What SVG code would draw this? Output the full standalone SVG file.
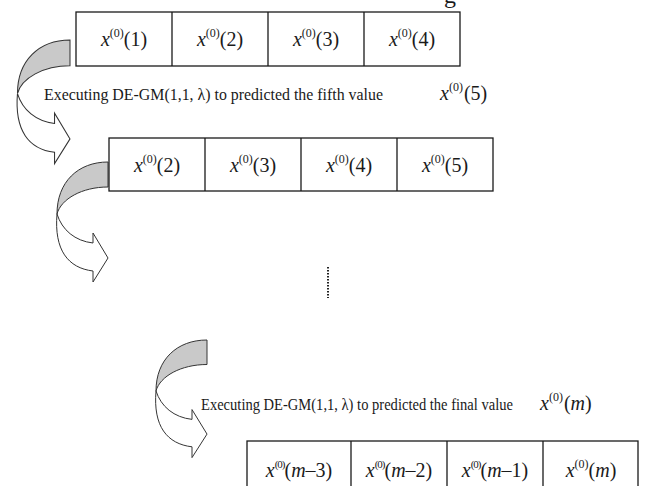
<svg xmlns="http://www.w3.org/2000/svg" width="654" height="486" viewBox="0 0 654 486">
<style>
.cell{fill:#fff;stroke:#1a1a1a;stroke-width:1.3}
.t{font-family:"Liberation Serif","Times New Roman",serif;fill:#1a1a1a}
.v{font-size:20px}
.cap{font-size:17.5px}
.band{fill:#c9c9c9;stroke:#333;stroke-width:1}
.front{fill:#fff;stroke:#333;stroke-width:1}
</style>
<defs>
<g id="carrow">
<path class="band" d="M0,0 C-30,0 -51,20 -51,52 C-47,37 -26,25 0,25 Z"/>
<path class="front" d="M-51,52 C-46,68 -33,79 -15,81 L-15,71 L0,96 L-15,120 L-15,109 C-40,106 -54,88 -51,52 Z"/>
</g>
</defs>
<rect width="654" height="486" fill="#fff"/>
<text class="t" x="444" y="3" font-size="24">g</text>

<g id="connectors">
<use href="#carrow" transform="translate(70,40) scale(1.03,1.03)"/>
<use href="#carrow" transform="translate(108,162)"/>
<use href="#carrow" transform="translate(207,340) scale(1,0.98)"/>
<line x1="328" y1="267" x2="328" y2="298" stroke="#222" stroke-width="2" stroke-dasharray="1.5 1.5"/>
</g>

<g id="row1">
<rect class="cell" x="76" y="12" width="384" height="54"/>
<line class="cell" x1="172" y1="12" x2="172" y2="66"/>
<line class="cell" x1="268" y1="12" x2="268" y2="66"/>
<line class="cell" x1="364" y1="12" x2="364" y2="66"/>
<text class="t v" x="124" y="46" text-anchor="middle"><tspan font-style="italic">x</tspan><tspan font-size="12" dy="-9">(0)</tspan><tspan dy="9">(1)</tspan></text>
<text class="t v" x="220" y="46" text-anchor="middle"><tspan font-style="italic">x</tspan><tspan font-size="12" dy="-9">(0)</tspan><tspan dy="9">(2)</tspan></text>
<text class="t v" x="316" y="46" text-anchor="middle"><tspan font-style="italic">x</tspan><tspan font-size="12" dy="-9">(0)</tspan><tspan dy="9">(3)</tspan></text>
<text class="t v" x="412" y="46" text-anchor="middle"><tspan font-style="italic">x</tspan><tspan font-size="12" dy="-9">(0)</tspan><tspan dy="9">(4)</tspan></text>
</g>

<g id="caption1">
<text class="t cap" x="44" y="100" textLength="339" lengthAdjust="spacingAndGlyphs">Executing DE-GM(1,1, λ) to predicted the fifth value</text>
<text class="t v" x="440" y="100"><tspan font-style="italic">x</tspan><tspan font-size="12" dy="-9">(0)</tspan><tspan dy="9" dx="1">(5)</tspan></text>
</g>

<g id="row2">
<rect class="cell" x="109" y="138" width="384" height="53"/>
<line class="cell" x1="205" y1="138" x2="205" y2="191"/>
<line class="cell" x1="301" y1="138" x2="301" y2="191"/>
<line class="cell" x1="397" y1="138" x2="397" y2="191"/>
<text class="t v" x="157" y="172" text-anchor="middle"><tspan font-style="italic">x</tspan><tspan font-size="12" dy="-9">(0)</tspan><tspan dy="9">(2)</tspan></text>
<text class="t v" x="253" y="172" text-anchor="middle"><tspan font-style="italic">x</tspan><tspan font-size="12" dy="-9">(0)</tspan><tspan dy="9">(3)</tspan></text>
<text class="t v" x="349" y="172" text-anchor="middle"><tspan font-style="italic">x</tspan><tspan font-size="12" dy="-9">(0)</tspan><tspan dy="9">(4)</tspan></text>
<text class="t v" x="445" y="172" text-anchor="middle"><tspan font-style="italic">x</tspan><tspan font-size="12" dy="-9">(0)</tspan><tspan dy="9">(5)</tspan></text>
</g>

<g id="caption2">
<text class="t cap" x="201" y="410" font-size="17" textLength="312" lengthAdjust="spacingAndGlyphs">Executing DE-GM(1,1, λ) to predicted the final value</text>
<text class="t v" x="540" y="410"><tspan font-style="italic">x</tspan><tspan font-size="12" dy="-9">(0)</tspan><tspan dy="9" dx="1">(<tspan font-style="italic">m</tspan>)</tspan></text>
</g>

<g id="row3">
<rect class="cell" x="247" y="441" width="391" height="60"/>
<line class="cell" x1="351" y1="441" x2="351" y2="486"/>
<line class="cell" x1="447" y1="441" x2="447" y2="486"/>
<line class="cell" x1="543" y1="441" x2="543" y2="486"/>
<text class="t v" x="299" y="477" text-anchor="middle" font-size="18"><tspan font-style="italic">x</tspan><tspan font-size="11" dy="-9" letter-spacing="-1">(0)</tspan><tspan dy="9">(</tspan><tspan font-style="italic">m</tspan><tspan>–3)</tspan></text>
<text class="t v" x="399" y="477" text-anchor="middle" font-size="18"><tspan font-style="italic">x</tspan><tspan font-size="11" dy="-9" letter-spacing="-1">(0)</tspan><tspan dy="9">(</tspan><tspan font-style="italic">m</tspan><tspan>–2)</tspan></text>
<text class="t v" x="495" y="477" text-anchor="middle" font-size="18"><tspan font-style="italic">x</tspan><tspan font-size="11" dy="-9" letter-spacing="-1">(0)</tspan><tspan dy="9">(</tspan><tspan font-style="italic">m</tspan><tspan>–1)</tspan></text>
<text class="t v" x="591" y="477" text-anchor="middle"><tspan font-style="italic">x</tspan><tspan font-size="12" dy="-9">(0)</tspan><tspan dy="9">(</tspan><tspan font-style="italic">m</tspan><tspan>)</tspan></text>
</g>
</svg>
